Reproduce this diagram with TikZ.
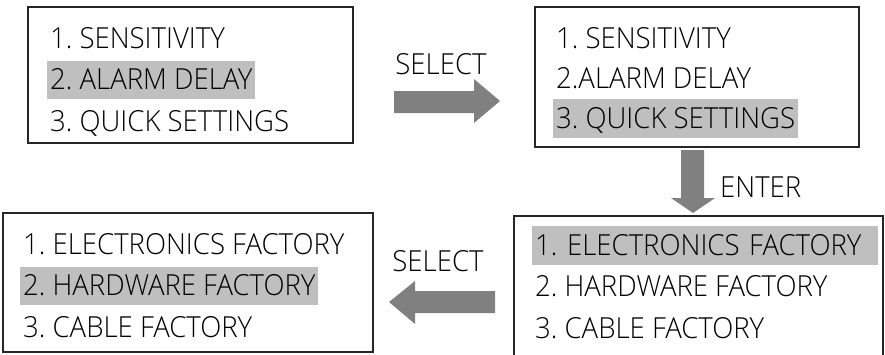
\documentclass[tikz,border=0pt]{standalone}
\usepackage{fontspec}
\IfFontExistsTF{Open Sans Light}{\setmainfont{Open Sans Light}[FakeStretch=0.95]}{\setmainfont{Open Sans}[FakeStretch=0.95]}
\usepackage{xcolor}
\definecolor{hlgray}{HTML}{BFBFBF}
\definecolor{arrgray}{HTML}{808080}
\frenchspacing

\begin{document}
\begin{tikzpicture}[x=1pt,y=-1pt,
  item/.style={anchor=base west,inner xsep=3pt,inner ysep=0pt,text height=29pt,text depth=9.5pt,font=\fontsize{29}{29}\selectfont},
  sel/.style={item,fill=hlgray},
  cmd/.style={inner sep=0pt,font=\fontsize{29}{29}\selectfont},
  frame/.style={draw=black!85,line width=1.3pt},
  blockarrow/.style={fill=arrgray}]
\useasboundingbox (0,0) rectangle (885,354);

% first menu
\draw[frame] (28,7) rectangle (353,143);
\node[item] (sens) at (47,48) {1. SENSITIVITY};
\node[sel] (delay) at (47,89.5) {2. ALARM DELAY};
\node[item] (quick) at (47,131) {3. QUICK SETTINGS};

% same menu, item 3 chosen
\draw[frame] (535,7) rectangle (859,147);
\node[item] (sensb) at (553,48) {1. SENSITIVITY};
\node[item] (delayb) at (553,88) {2.ALARM DELAY};
\node[sel] (quickb) at (553,128) {3. QUICK SETTINGS};

% factory list
\draw[frame] (514,360) -- (514,216) -- (883,216) -- (883,360);
\node[sel,text width=340pt,align=left] (elec) at (532,255) {1. ELECTRONICS FACTORY};
\node[item] (hard) at (532,296.5) {2. HARDWARE FACTORY};
\node[item] (cable) at (532,338) {3. CABLE FACTORY};

% factory list, item 2 chosen
\draw[frame] (3,213) rectangle (373,352);
\node[item] (elecb) at (20,254) {1. ELECTRONICS FACTORY};
\node[sel] (hardb) at (20,295.5) {2. HARDWARE FACTORY};
\node[item] (cableb) at (20,337) {3. CABLE FACTORY};

% arrows
\fill[blockarrow] (394,91) -- (474,91) -- (474,79) -- (500,101) -- (474,123) -- (474,113) -- (394,113) -- cycle;
\node[cmd,anchor=base] (selone) at (441,74) {SELECT};
\fill[blockarrow] (681,150) -- (704,150) -- (704,198) -- (715,198) -- (693,213) -- (671,198) -- (681,198) -- cycle;
\node[cmd,anchor=base west] (enter) at (720,197) {ENTER};
\fill[blockarrow] (495,291) -- (415,291) -- (415,281) -- (389,302) -- (415,324) -- (415,313) -- (495,313) -- cycle;
\node[cmd,anchor=base] (seltwo) at (438,271) {SELECT};
\end{tikzpicture}
\end{document}
